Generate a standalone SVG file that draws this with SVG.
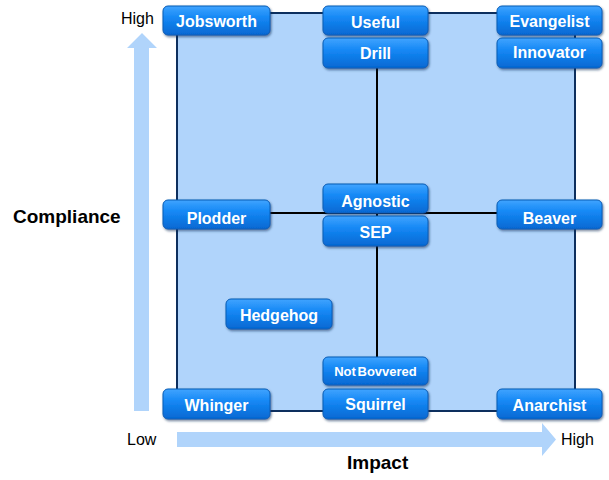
<svg xmlns="http://www.w3.org/2000/svg" width="609" height="480" viewBox="0 0 609 480">
<defs>
<linearGradient id="btn" x1="0" y1="0" x2="0" y2="1">
<stop offset="0" stop-color="#40a4ff"/>
<stop offset="0.4" stop-color="#1588f5"/>
<stop offset="1" stop-color="#0568d2"/>
</linearGradient>
<filter id="sh" x="-10%" y="-20%" width="125%" height="150%">
<feDropShadow dx="1" dy="1.5" stdDeviation="0.8" flood-color="#0a2a55" flood-opacity="0.6"/>
</filter>
</defs>
<style>
.b{fill:url(#btn);stroke:#0b5cb5;stroke-width:1;filter:url(#sh)}
.t{font-family:"Liberation Sans",Arial,sans-serif;font-weight:bold;font-size:16px;fill:#ffffff;text-anchor:middle}
.ax{fill:#b0d4fb}
.lbl{font-family:"Liberation Sans",Arial,sans-serif;font-size:16px;fill:#000}
.ttl{font-family:"Liberation Sans",Arial,sans-serif;font-size:19px;font-weight:bold;fill:#000}
.ln{stroke:#000;stroke-width:2;fill:none}
</style>
<rect x="0" y="0" width="609" height="480" fill="#ffffff"/>
<g id="axes">
<polygon class="ax" points="142,33 157,48 149,48 149,411 134,411 134,48 127,48"/>
<polygon class="ax" points="177,432 542,432 542,423 556,439.5 542,456 542,447 177,447"/>
<text class="lbl" x="121" y="24">High</text>
<text class="lbl" x="127" y="445">Low</text>
<text class="lbl" x="561" y="445">High</text>
<text class="ttl" x="13" y="223">Compliance</text>
<text class="ttl" x="347" y="469">Impact</text>
</g>
<rect id="grid" x="177" y="13" width="398" height="398" fill="#b0d4fb" stroke="#0d2f5e" stroke-width="2"/>
<g id="connectors">
<line class="ln" x1="377" y1="60" x2="377" y2="360"/>
<line class="ln" x1="260" y1="213" x2="505" y2="213"/>
</g>
<g id="n-jobsworth"><rect class="b" x="163" y="6" width="107" height="29" rx="5"/><text class="t" x="216.5" y="26.5">Jobsworth</text></g>
<g id="n-useful"><rect class="b" x="323" y="6" width="105" height="29" rx="5"/><text class="t" x="375.5" y="27.5">Useful</text></g>
<g id="n-drill"><rect class="b" x="323" y="38" width="105" height="30" rx="5"/><text class="t" x="375.5" y="59">Drill</text></g>
<g id="n-evangelist"><rect class="b" x="497" y="6" width="105" height="29" rx="5"/><text class="t" x="549.5" y="26.5">Evangelist</text></g>
<g id="n-innovator"><rect class="b" x="497" y="38" width="105" height="30" rx="5"/><text class="t" x="549.5" y="58">Innovator</text></g>
<g id="n-plodder"><rect class="b" x="163" y="200" width="107" height="29" rx="5"/><text class="t" x="216.5" y="223.5">Plodder</text></g>
<g id="n-agnostic"><rect class="b" x="323" y="184" width="105" height="29" rx="5"/><text class="t" x="375.5" y="207">Agnostic</text></g>
<g id="n-sep"><rect class="b" x="323" y="216" width="105" height="30" rx="5"/><text class="t" x="375.5" y="237.5">SEP</text></g>
<g id="n-beaver"><rect class="b" x="497" y="200" width="105" height="29" rx="5"/><text class="t" x="549.5" y="223.5">Beaver</text></g>
<g id="n-hedgehog"><rect class="b" x="226" y="299" width="106" height="30" rx="5"/><text class="t" x="279" y="320.5">Hedgehog</text></g>
<g id="n-notbovvered"><rect class="b" x="323" y="357" width="105" height="28" rx="5"/><text class="t" x="375.5" y="376" style="font-size:13px;word-spacing:-2px">Not Bovvered</text></g>
<g id="n-whinger"><rect class="b" x="163" y="389" width="107" height="30" rx="5"/><text class="t" x="216.5" y="410.5">Whinger</text></g>
<g id="n-squirrel"><rect class="b" x="323" y="389" width="105" height="30" rx="5"/><text class="t" x="375.5" y="410">Squirrel</text></g>
<g id="n-anarchist"><rect class="b" x="497" y="389" width="105" height="30" rx="5"/><text class="t" x="549.5" y="410.5">Anarchist</text></g>
</svg>
